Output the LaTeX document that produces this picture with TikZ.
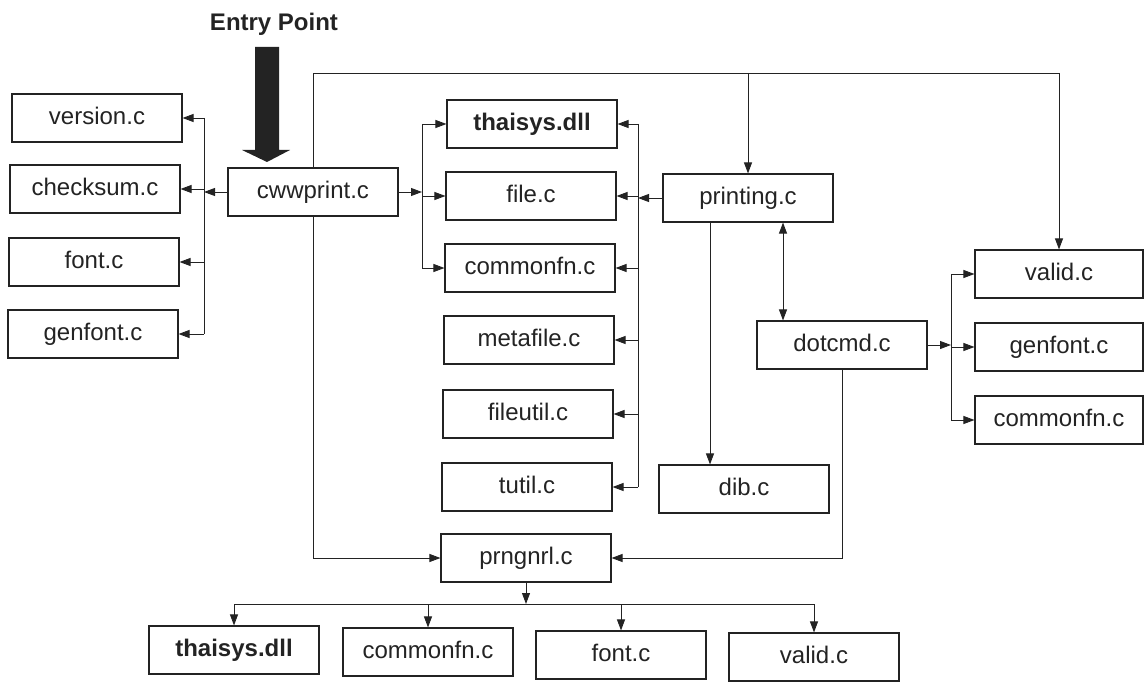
\documentclass[tikz,border=0pt]{standalone}
\usepackage{fontspec}
\setmainfont{Liberation Sans}
\usetikzlibrary{arrows.meta}
\definecolor{ink}{RGB}{35,35,35}
\begin{document}
\begin{tikzpicture}[x=1pt,y=-1pt,
  box/.style={draw=ink, line width=1.1pt, minimum width=170pt, minimum height=48pt, inner sep=0pt,
    text=ink, font=\fontsize{24}{28}\selectfont, text height=17pt, text depth=4pt},
  bbox/.style={box, font=\fontsize{24}{28}\selectfont\bfseries},
  conn/.style={draw=ink, line width=0.9pt},
  arr/.style={conn, -{Triangle[length=11pt,width=8pt]}},
  arr2/.style={conn, {Triangle[length=11pt,width=8pt]}-{Triangle[length=11pt,width=8pt]}}]
\useasboundingbox (0,0) rectangle (1144,682);

% Entry point
\node[text=ink, font=\fontsize{24}{28}\selectfont\bfseries, anchor=base] (entry) at (274,31) {Entry Point};
\fill[ink] (255,47) -- (279,47) -- (279,150) -- (290,150) -- (267,162) -- (242,150) -- (255,150) -- cycle;

% left column
\node[box] (version)  at (97,118) {version.c};
\node[box] (checksum) at (95,189) {checksum.c};
\node[box] (lfont)    at (94,262) {font.c};
\node[box] (lgenfont) at (93,334) {genfont.c};
\node[box] (cww)      at (313,192) {cwwprint.c};

% middle column
\node[bbox] (mthaisys) at (532,124) {thaisys.dll};
\node[box] (file)     at (531,196) {file.c};
\node[box] (mcommon)  at (530,268) {commonfn.c};
\node[box] (metafile) at (529,340) {metafile.c};
\node[box] (fileutil) at (528,414) {fileutil.c};
\node[box] (tutil)    at (527,487) {tutil.c};
\node[box] (prngnrl)  at (526,558) {prngnrl.c};

% right side
\node[box] (printing) at (748,198) {printing.c};
\node[box] (dib)      at (744,489) {dib.c};
\node[box] (dotcmd)   at (842,345) {dotcmd.c};
\node[box, minimum width=168pt] (rvalid)   at (1059,274) {valid.c};
\node[box, minimum width=168pt] (rgenfont) at (1059,347) {genfont.c};
\node[box, minimum width=168pt] (rcommon)  at (1059,420) {commonfn.c};

% bottom row
\node[bbox] (bthaisys) at (234,650) {thaisys.dll};
\node[box] (bcommon)  at (428,652) {commonfn.c};
\node[box] (bfont)    at (621,655) {font.c};
\node[box] (bvalid)   at (814,657) {valid.c};

% bus coordinates
\coordinate (lb) at (204,192);
\coordinate (mb) at (422,192);
\coordinate (rb) at (638,198);
\coordinate (db) at (951,345);
\coordinate (top) at (313,73);
\coordinate (bb) at (526,604);

% cwwprint -> left column
\draw[arr] (cww.west) -- (lb);
\draw[conn] (lb |- version.east) -- (lb |- lgenfont.east);
\draw[arr] (lb |- version.east) -- (version.east);
\draw[arr] (lb |- checksum.east) -- (checksum.east);
\draw[arr] (lb |- lfont.east) -- (lfont.east);
\draw[arr] (lb |- lgenfont.east) -- (lgenfont.east);

% cwwprint -> middle left bus
\draw[arr] (cww.east) -- (mb);
\draw[conn] (mb |- mthaisys.west) -- (mb |- mcommon.west);
\draw[arr] (mb |- mthaisys.west) -- (mthaisys.west);
\draw[arr] (mb |- file.west) -- (file.west);
\draw[arr] (mb |- mcommon.west) -- (mcommon.west);

% top line
\draw[conn] (cww.north) |- (rvalid.north |- top);
\draw[arr] (printing.north |- top) -- (printing.north);
\draw[arr] (rvalid.north |- top) -- (rvalid.north);

% cwwprint -> prngnrl
\draw[arr] (cww.south) |- (prngnrl.west);

% printing -> right bus of middle column
\draw[arr] (printing.west) -- (rb);
\draw[conn] (rb |- mthaisys.east) -- (rb |- tutil.east);
\draw[arr] (rb |- mthaisys.east) -- (mthaisys.east);
\draw[arr] (rb |- file.east) -- (file.east);
\draw[arr] (rb |- mcommon.east) -- (mcommon.east);
\draw[arr] (rb |- metafile.east) -- (metafile.east);
\draw[arr] (rb |- fileutil.east) -- (fileutil.east);
\draw[arr] (rb |- tutil.east) -- (tutil.east);

% printing -> dib, printing <-> dotcmd
\draw[arr] ([xshift=-38pt]printing.south) -- ([xshift=-38pt]printing.south |- dib.north);
\draw[arr2] ([xshift=35pt]printing.south) -- ([xshift=35pt]printing.south |- dotcmd.north);

% dotcmd -> right column
\draw[arr] (dotcmd.east) -- (db);
\draw[conn] (db |- rvalid.west) -- (db |- rcommon.west);
\draw[arr] (db |- rvalid.west) -- (rvalid.west);
\draw[arr] (db |- rgenfont.west) -- (rgenfont.west);
\draw[arr] (db |- rcommon.west) -- (rcommon.west);

% dotcmd -> prngnrl
\draw[arr] (dotcmd.south) |- (prngnrl.east);

% prngnrl -> bottom row
\draw[arr] (prngnrl.south) -- (bb);
\draw[conn] (bthaisys.north |- bb) -- (bvalid.north |- bb);
\draw[arr] (bthaisys.north |- bb) -- (bthaisys.north);
\draw[arr] (bcommon.north |- bb) -- (bcommon.north);
\draw[arr] (bfont.north |- bb) -- (bfont.north);
\draw[arr] (bvalid.north |- bb) -- (bvalid.north);
\end{tikzpicture}
\end{document}
